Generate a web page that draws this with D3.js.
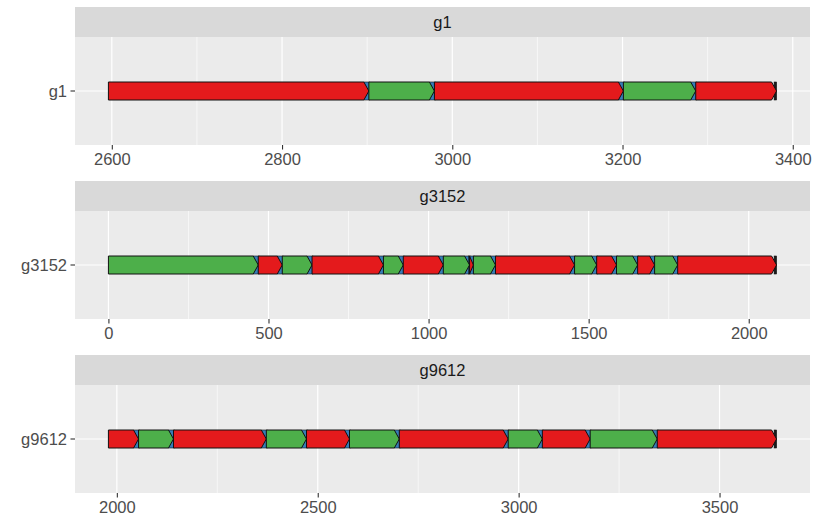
<!DOCTYPE html>
<html lang="en">
<head>
<meta charset="utf-8">
<title>genes</title>
<script src="https://d3js.org/d3.v7.min.js"></script>
<style>
  body { margin: 0; background: #fff; }
  text { font-family: "Liberation Sans", Arial, sans-serif; }
</style>
</head>
<body>
<svg id="chart" width="816" height="522"></svg>
<script>
// colours (Set1)
var red = "#E41A1C", green = "#4DAF4A", blue = "#377EB8";

// panel names
var panels = ["g1", "g3152", "g9612"];

// g1 features
var g1Start = [2596, 2902, 2979, 3201, 3286];
var g1End   = [2902, 2979, 3201, 3286, 3381];
var g1Type  = ["r", "g", "r", "g", "r"];
var g1Ticks = [2600, 2800, 3000, 3200, 3400];

// g3152 features
var g3152Start = [0, 468, 543, 636, 859, 921, 1046, 1128, 1140, 1209, 1456, 1525, 1587, 1653, 1706, 1778];
var g3152End   = [468, 543, 636, 859, 921, 1046, 1128, 1140, 1209, 1456, 1525, 1587, 1653, 1706, 1778, 2087];
var g3152Type  = ["g", "r", "g", "r", "g", "r", "g", "r", "g", "r", "g", "r", "g", "r", "g", "r"];
var g3152Ticks = [0, 500, 1000, 1500, 2000];

// g9612 features
var g9612Start = [1979, 2054, 2141, 2372, 2472, 2579, 2703, 2974, 3059, 3178, 3345];
var g9612End   = [2054, 2141, 2372, 2472, 2579, 2703, 2974, 3059, 3178, 3345, 3642];
var g9612Type  = ["r", "g", "r", "g", "r", "g", "r", "g", "r", "g", "r"];
var g9612Ticks = [2000, 2500, 3000, 3500];

var starts = [g1Start, g3152Start, g9612Start];
var ends = [g1End, g3152End, g9612End];
var types = [g1Type, g3152Type, g9612Type];
var ticks = [g1Ticks, g3152Ticks, g9612Ticks];

var colour = d3.scaleOrdinal().domain(["r", "g"]).range([red, green]);

// layout
var left = 75, right = 810;
var top0 = 7, stripH = 30, panelH = 108, gap = 36;
var bodyH = 18, headW = 5;
var fs = "16.5px";

var svg = d3.select("#chart");

panels.forEach(function(name, p) {
  var y0 = top0 + p * (stripH + panelH + gap);
  var py = y0 + stripH;
  var mid = py + panelH / 2;

  var lo = d3.min(starts[p]), hi = d3.max(ends[p]);
  var pad = (hi - lo) * 0.05;
  var x = d3.scaleLinear().domain([lo - pad, hi + pad]).range([left, right]);

  var g = svg.append("g");

  // strip
  g.append("rect").attr("x", left).attr("y", y0).attr("width", right - left).attr("height", stripH)
    .attr("fill", "#D9D9D9");
  g.append("text").attr("x", (left + right) / 2).attr("y", y0 + stripH / 2)
    .attr("dy", "0.35em").attr("text-anchor", "middle").attr("fill", "#1A1A1A")
    .style("font-size", fs).text(name);

  // panel
  g.append("rect").attr("x", left).attr("y", py).attr("width", right - left).attr("height", panelH)
    .attr("fill", "#EBEBEB");

  var major = ticks[p];
  var step = major[1] - major[0];
  var minor = [];
  for (var i = 0; i <= major.length; i++) {
    var m = major[0] - step / 2 + i * step;
    if (m > x.domain()[0] && m < x.domain()[1]) minor.push(m);
  }

  g.selectAll(".minor").data(minor).enter().append("line")
    .attr("x1", d => x(d)).attr("x2", d => x(d)).attr("y1", py).attr("y2", py + panelH)
    .attr("stroke", "#fff").attr("stroke-width", 0.6);
  g.selectAll(".major").data(major).enter().append("line")
    .attr("x1", d => x(d)).attr("x2", d => x(d)).attr("y1", py).attr("y2", py + panelH)
    .attr("stroke", "#fff").attr("stroke-width", 1.2);
  g.append("line").attr("x1", left).attr("x2", right).attr("y1", mid).attr("y2", mid)
    .attr("stroke", "#fff").attr("stroke-width", 1.2);

  // x axis
  var axis = g.append("g").attr("transform", "translate(0," + (py + panelH) + ")")
    .call(d3.axisBottom(x).tickValues(major).tickSize(4.5).tickPadding(3.5).tickFormat(d3.format("d")));
  axis.select(".domain").remove();
  axis.selectAll("line").attr("stroke", "#333").attr("stroke-width", 1.1);
  axis.selectAll("text").attr("fill", "#4D4D4D").style("font-size", fs)
    .style("font-family", "'Liberation Sans', Arial, sans-serif");

  // y axis
  g.append("line").attr("x1", left - 4.5).attr("x2", left).attr("y1", mid).attr("y2", mid)
    .attr("stroke", "#333").attr("stroke-width", 1.1);
  g.append("text").attr("x", left - 8).attr("y", mid).attr("dy", "0.35em")
    .attr("text-anchor", "end").attr("fill", "#4D4D4D").style("font-size", fs).text(name);

  var feats = starts[p].map(function(s, i) {
    return { start: s, end: ends[p][i], type: types[p][i], last: i === starts[p].length - 1 };
  });

  // small blue features under each gene end (the final one is only a sliver)
  g.selectAll(".blue").data(feats).enter().append("rect")
    .attr("x", d => x(d.end) - (d.last ? 2.5 : headW))
    .attr("y", mid - bodyH / 2)
    .attr("width", d => d.last ? 2.5 : headW + 0.8)
    .attr("height", bodyH)
    .attr("fill", d => d.last ? "#1a1a1a" : blue)
    .attr("stroke", "#111").attr("stroke-width", 0.6);

  // gene arrows
  g.selectAll(".gene").data(feats).enter().append("path")
    .attr("d", function(d) {
      var x0 = x(d.start), x1 = x(d.end);
      var aw = Math.min(headW, x1 - x0);
      var t = mid - bodyH / 2, b = mid + bodyH / 2;
      return "M" + x0 + "," + t + "L" + (x1 - aw) + "," + t + "L" + x1 + "," + mid +
        "L" + (x1 - aw) + "," + b + "L" + x0 + "," + b + "Z";
    })
    .attr("fill", d => colour(d.type))
    .attr("stroke", "#111").attr("stroke-width", 1);
});
</script>
</body>
</html>
